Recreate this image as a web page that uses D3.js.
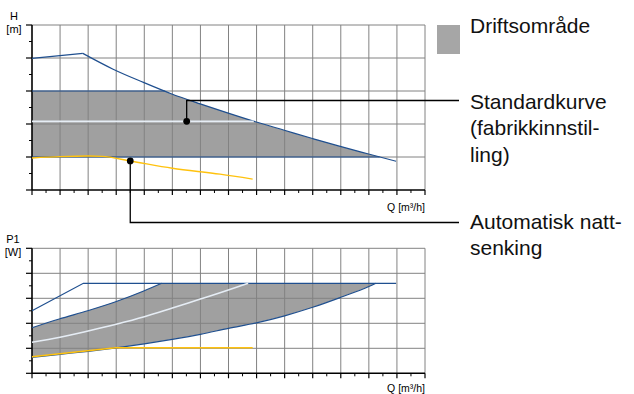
<!DOCTYPE html>
<html>
<head>
<meta charset="utf-8">
<script src="https://cdn.jsdelivr.net/npm/d3@7"></script>
<style>
  body { margin: 0; background: #fff; }
</style>
</head>
<body>
<div id="chart"></div>
<script>
// --- data (Q in grid units, H and P1 in grid units) ---
var hMaxRise = [[0, 3.99], [1.81, 4.14]];
var hMaxFall = [[1.81, 4.14], [2.89, 3.66], [3.97, 3.26], [4.98, 2.91], [5.99, 2.61], [6.99, 2.33],
                [7.99, 2.06], [8.99, 1.81], [9.99, 1.56], [10.98, 1.32], [11.99, 1.09], [12.97, 0.87]];
var hBandTop = [[0, 3], [4.73, 3]];
var hBandBottom = [[0, 1], [12.38, 1]];
var hStandard = [[0, 2.08], [7.9, 2.08]];
var hNight = [[0, 0.97], [1.0, 1.01], [2.0, 1.03], [2.5, 1.02], [3.5, 0.88], [5.0, 0.66], [6.7, 0.48], [7.86, 0.33]];
var hDots = [[5.51, 2.08], [3.5, 0.88]];

var pMax = [[0, 2.5], [1.83, 3.6], [12.97, 3.6]];
var pUpper = [[0, 1.82], [0.97, 2.17], [1.98, 2.5], [2.98, 2.86], [3.98, 3.29], [4.62, 3.6]];
var pTop = [[4.62, 3.6], [12.25, 3.6]];
var pLower = [[0, 0.64], [1, 0.76], [2, 0.88], [3, 1.02], [4, 1.18], [5, 1.36], [6, 1.56], [7, 1.8],
              [8, 2.02], [9, 2.3], [10, 2.64], [11, 3.04], [12, 3.47], [12.25, 3.6]];
var pStandard = [[0, 1.24], [1, 1.44], [2, 1.69], [3, 1.96], [4, 2.26], [5, 2.61], [6, 2.97], [6.7, 3.22], [7.7, 3.6]];
var pNight = [[0, 0.66], [2.98, 1.02], [7.86, 1.02]];

var qMax = 14;
var yMax = 5;

var legendLabels = ['Driftsområde', ['Standardkurve', '(fabrikkinnstil-', 'ling)'], ['Automatisk natt-', 'senking']];
var topAxisLabel = ['H', '[m]'];
var bottomAxisLabel = ['P1', '[W]'];
var xAxisLabel = 'Q [m³/h]';

// colours
var blue = '#1f4f8f';
var yellow = '#ffc20e';
var white = '#e6edf5';
var fillGrey = '#a0a0a0';
var gridGrey = '#828282';
var font = '"Liberation Sans", Arial, sans-serif';

var width = 634, height = 394;
var svg = d3.select('#chart').append('svg')
    .attr('width', width)
    .attr('height', height)
    .style('font-family', font);

var x = d3.scaleLinear().domain([0, qMax]).range([32, 425]);
var yH = d3.scaleLinear().domain([0, yMax]).range([190, 25]);
var yP = d3.scaleLinear().domain([0, yMax]).range([373.3, 248.3]);

var line = function(ys, curve) {
    return d3.line()
        .curve(curve || d3.curveLinear)
        .x(d => x(d[0]))
        .y(d => ys(d[1]));
};

function drawFrame(g, ys) {
    var majors = d3.range(0, qMax + 1);
    var minorsX = d3.range(0.5, qMax, 1);
    var majorsY = d3.range(0, yMax + 1);
    var minorsY = d3.range(0.5, yMax, 1);

    // grid
    g.selectAll('.vgrid').data(majors.slice(1)).enter().append('line')
        .attr('x1', d => x(d)).attr('x2', d => x(d))
        .attr('y1', ys(0)).attr('y2', ys(yMax))
        .attr('stroke', gridGrey).attr('stroke-width', 1);
    g.selectAll('.hgrid').data(majorsY.slice(1)).enter().append('line')
        .attr('x1', x(0)).attr('x2', x(qMax))
        .attr('y1', d => ys(d)).attr('y2', d => ys(d))
        .attr('stroke', gridGrey).attr('stroke-width', 1);

    // ticks on x
    g.selectAll('.xt').data(majors).enter().append('line')
        .attr('x1', d => x(d)).attr('x2', d => x(d))
        .attr('y1', ys(0)).attr('y2', ys(0) + 5)
        .attr('stroke', '#000').attr('stroke-width', 1.2);
    g.selectAll('.xm').data(minorsX).enter().append('line')
        .attr('x1', d => x(d)).attr('x2', d => x(d))
        .attr('y1', ys(0)).attr('y2', ys(0) + 3)
        .attr('stroke', '#000').attr('stroke-width', 1);
    // ticks on y
    g.selectAll('.yt').data(majorsY).enter().append('line')
        .attr('x1', x(0) - 6).attr('x2', x(0))
        .attr('y1', d => ys(d)).attr('y2', d => ys(d))
        .attr('stroke', '#000').attr('stroke-width', 1.2);
    g.selectAll('.ym').data(minorsY).enter().append('line')
        .attr('x1', x(0) - 3).attr('x2', x(0))
        .attr('y1', d => ys(d)).attr('y2', d => ys(d))
        .attr('stroke', '#000').attr('stroke-width', 1);

    // axes
    g.append('line')
        .attr('x1', x(0)).attr('x2', x(qMax))
        .attr('y1', ys(0)).attr('y2', ys(0))
        .attr('stroke', '#000').attr('stroke-width', 1.6);
    g.append('line')
        .attr('x1', x(0)).attr('x2', x(0))
        .attr('y1', ys(0)).attr('y2', ys(yMax))
        .attr('stroke', '#000').attr('stroke-width', 1.6);
}

// ---------- top chart (H) ----------
var topG = svg.append('g');

svg.append('defs').append('clipPath')
    .attr('id', 'bandClip')
    .append('rect')
        .attr('x', x(0))
        .attr('y', yH(3))
        .attr('width', x(qMax) - x(0))
        .attr('height', yH(1) - yH(3));

topG.append('path')
    .datum(hMaxRise.concat(hMaxFall.slice(1)))
    .attr('clip-path', 'url(#bandClip)')
    .attr('fill', fillGrey)
    .attr('d', d3.area()
        .curve(d3.curveMonotoneX)
        .x(d => x(d[0]))
        .y0(yH(0))
        .y1(d => yH(d[1])));

drawFrame(topG, yH);

topG.append('path').datum(hMaxRise)
    .attr('fill', 'none').attr('stroke', blue).attr('stroke-width', 1.2)
    .attr('d', line(yH));
topG.append('path').datum(hMaxFall)
    .attr('fill', 'none').attr('stroke', blue).attr('stroke-width', 1.2)
    .attr('d', line(yH, d3.curveMonotoneX));
[hBandTop, hBandBottom].forEach(function(s) {
    topG.append('path').datum(s)
        .attr('fill', 'none').attr('stroke', blue).attr('stroke-width', 1.2)
        .attr('d', line(yH));
});
topG.append('path').datum(hStandard)
    .attr('fill', 'none').attr('stroke', white).attr('stroke-width', 1.6)
    .attr('d', line(yH));
topG.append('path').datum(hNight)
    .attr('fill', 'none').attr('stroke', yellow).attr('stroke-width', 1.4)
    .attr('d', line(yH, d3.curveMonotoneX));

// ---------- bottom chart (P1) ----------
var botG = svg.append('g');

botG.append('path')
    .datum(pUpper.concat(pTop.slice(1)).concat(pLower.slice().reverse()))
    .attr('fill', fillGrey)
    .attr('d', line(yP, d3.curveLinearClosed));

drawFrame(botG, yP);

botG.append('path').datum(pMax)
    .attr('fill', 'none').attr('stroke', blue).attr('stroke-width', 1.2)
    .attr('d', line(yP));
botG.append('path').datum(pUpper)
    .attr('fill', 'none').attr('stroke', blue).attr('stroke-width', 1.2)
    .attr('d', line(yP, d3.curveMonotoneX));
botG.append('path').datum(pLower)
    .attr('fill', 'none').attr('stroke', blue).attr('stroke-width', 1.2)
    .attr('d', line(yP, d3.curveMonotoneX));
botG.append('path').datum(pStandard)
    .attr('fill', 'none').attr('stroke', white).attr('stroke-width', 1.6)
    .attr('d', line(yP, d3.curveMonotoneX));
botG.append('path').datum(pNight)
    .attr('fill', 'none').attr('stroke', yellow).attr('stroke-width', 1.4)
    .attr('d', line(yP));

// ---------- axis labels ----------
function axisTitle(lines, cx, y0) {
    var t = svg.append('text')
        .attr('text-anchor', 'middle')
        .style('font-size', '11px')
        .attr('fill', '#000');
    lines.forEach(function(s, i) {
        t.append('tspan').attr('x', cx).attr('y', y0 + i * 13).text(s);
    });
}
axisTitle(topAxisLabel, 14, 20);
axisTitle(bottomAxisLabel, 13, 242.5);

svg.append('text')
    .attr('x', x(qMax)).attr('y', yH(0) + 20.5)
    .attr('text-anchor', 'end')
    .style('font-size', '10.5px')
    .text(xAxisLabel);
svg.append('text')
    .attr('x', x(qMax)).attr('y', yP(0) + 18.3)
    .attr('text-anchor', 'end')
    .style('font-size', '10.5px')
    .text(xAxisLabel);

// ---------- legend / annotations ----------
var labelX = 470;
var lineH = 26.5;

svg.append('rect')
    .attr('x', 437).attr('y', 25)
    .attr('width', 23).attr('height', 29)
    .attr('fill', '#a6a6a6');

function label(lines, y0) {
    var t = svg.append('text')
        .style('font-size', '21px')
        .attr('fill', '#111');
    lines.forEach(function(s, i) {
        t.append('tspan').attr('x', labelX).attr('y', y0 + i * lineH).text(s);
    });
}
label([legendLabels[0]], 32.5);
label(legendLabels[1], 108.5);
label(legendLabels[2], 228.5);

// leader lines from the dots to the labels
var stdY = 108.5 - 8;
var nightY = 228.5 - 6;
var leaders = [
    [[x(hDots[0][0]), yH(hDots[0][1])], [x(hDots[0][0]), stdY], [labelX - 11, stdY]],
    [[x(hDots[1][0]), yH(hDots[1][1])], [x(hDots[1][0]), nightY], [labelX - 11, nightY]]
];
leaders.forEach(function(pts) {
    svg.append('path')
        .attr('d', d3.line()(pts))
        .attr('fill', 'none')
        .attr('stroke', '#000')
        .attr('stroke-width', 1.3);
});

svg.selectAll('.dot').data(hDots).enter().append('circle')
    .attr('cx', d => x(d[0]))
    .attr('cy', d => yH(d[1]))
    .attr('r', 3.4)
    .attr('fill', '#000');
</script>
</body>
</html>
